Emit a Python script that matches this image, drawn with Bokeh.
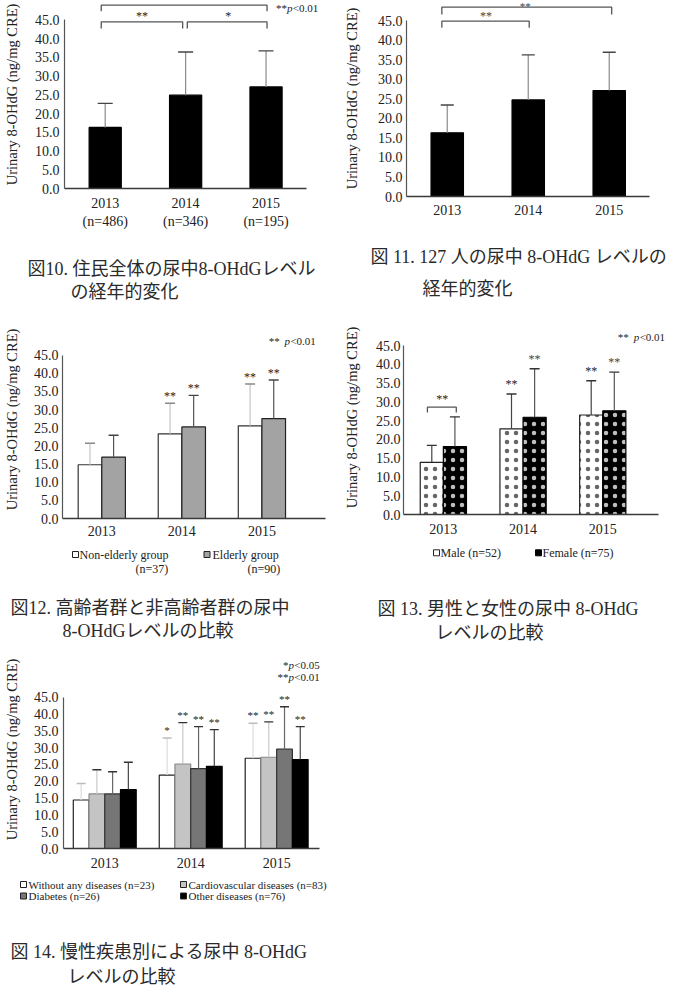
import math
from bokeh.plotting import figure
from bokeh.models import (Range1d, FixedTicker, PrintfTickFormatter, Label,
                          Whisker, TeeHead, ColumnDataSource)
from bokeh.layouts import column, row
from bokeh.embed import file_html
from bokeh.resources import INLINE

SERIF = "Liberation Serif, Noto Sans CJK JP"

# ---------------- data ----------------
years = ["2013", "2014", "2015"]
yticks = [0, 5, 10, 15, 20, 25, 30, 35, 40, 45]
ylabel = "Urinary 8-OHdG (ng/mg CRE)"

# Fig 10: all residents
fig10_n = ["(n=486)", "(n=346)", "(n=195)"]
fig10_mean = [16.3, 24.9, 27.1]
fig10_upper = [22.7, 36.4, 36.7]

# Fig 11: 127 persons
fig11_mean = [16.3, 24.7, 27.1]
fig11_upper = [23.4, 36.2, 36.9]

# Fig 12: elderly vs non-elderly
fig12_labels = ["Non-elderly group", "Elderly group"]
fig12_n = ["(n=37)", "(n=90)"]
fig12_nonelderly = [14.8, 23.3, 25.5]
fig12_nonelderly_upper = [20.7, 31.7, 37.0]
fig12_nonelderly_sig = ["", "**", "**"]
fig12_elderly = [16.9, 25.2, 27.5]
fig12_elderly_upper = [22.9, 33.9, 38.1]
fig12_elderly_sig = ["", "**", "**"]

# Fig 13: male vs female
fig13_labels = ["Male", "Female"]
fig13_n = ["(n=52)", "(n=75)"]
fig13_male = [13.9, 22.8, 26.5]
fig13_male_upper = [18.4, 32.1, 35.6]
fig13_male_sig = ["", "**", "**"]
fig13_female = [18.1, 25.9, 27.6]
fig13_female_upper = [26.0, 38.8, 37.9]
fig13_female_sig = ["", "**", "**"]

# Fig 14: chronic diseases
fig14_labels = ["Without any diseases", "Cardiovascular diseases", "Diabetes", "Other diseases"]
fig14_n = ["(n=23)", "(n=83)", "(n=26)", "(n=76)"]
fig14_none = [14.4, 21.8, 26.8]
fig14_none_upper = [19.3, 32.8, 37.2]
fig14_none_sig = ["", "*", "**"]
fig14_cardio = [16.2, 25.1, 27.1]
fig14_cardio_upper = [23.4, 37.4, 37.6]
fig14_cardio_sig = ["", "**", "**"]
fig14_diab = [16.2, 23.7, 29.5]
fig14_diab_upper = [22.8, 36.2, 42.1]
fig14_diab_sig = ["", "**", "**"]
fig14_other = [17.5, 24.4, 26.4]
fig14_other_upper = [25.6, 35.3, 36.2]
fig14_other_sig = ["", "**", "**"]

captions = {
    10: ["図10. 住民全体の尿中8-OHdGレベル", "の経年的変化"],
    11: ["図 11. 127 人の尿中 8-OHdG レベルの", "経年的変化"],
    12: ["図12. 高齢者群と非高齢者群の尿中", "8-OHdGレベルの比較"],
    13: ["図 13. 男性と女性の尿中 8-OHdG", "レベルの比較"],
    14: ["図 14. 慢性疾患別による尿中 8-OHdG", "レベルの比較"],
}


# ---------------- helpers ----------------
class Panel:
    """A chart figure (axes + bars) stacked over a text figure (legend, caption)."""

    def __init__(self, W, H, CH, L, B, xc0, dx, y45, axis_right, tick_labels,
                 tick_standoff=8, ytick_standoff=5, ylab_standoff=14):
        self.ppu = (B - y45) / 45.0
        self.xc0, self.dx, self.B, self.CH = xc0, dx, B, CH
        p = figure(width=W, height=CH,
                   x_range=Range1d(self.X(L), self.X(W)),
                   y_range=Range1d(0, self.Y(0)),
                   output_backend="svg", toolbar_location=None,
                   min_border_left=L, min_border_right=0,
                   min_border_top=0, min_border_bottom=CH - B)
        p.frame_align = False
        p.outline_line_color = None
        p.background_fill_color = "white"
        p.border_fill_color = "white"
        p.grid.visible = False
        p.axis.major_tick_line_color = None
        p.axis.minor_tick_line_color = None
        p.axis.major_tick_out = 0
        p.axis.major_tick_in = 0

        p.xaxis.ticker = FixedTicker(ticks=[0, 1, 2])
        p.xaxis.major_label_overrides = {i: t for i, t in enumerate(tick_labels)}
        p.xaxis.bounds = (self.X(L), axis_right)
        p.xaxis.axis_line_color = "#3a3a3a"
        p.xaxis.axis_line_width = 1.6
        p.xaxis.major_label_text_font = SERIF
        p.xaxis.major_label_text_font_size = "14px"
        p.xaxis.major_label_text_color = "#222"
        p.xaxis.major_label_standoff = tick_standoff

        p.yaxis.ticker = FixedTicker(ticks=yticks)
        p.yaxis.formatter = PrintfTickFormatter(format="%.1f")
        p.yaxis.bounds = (0, 45)
        p.yaxis.axis_line_color = "#555"
        p.yaxis.axis_line_width = 1.2
        p.yaxis.major_label_text_font = SERIF
        p.yaxis.major_label_text_font_size = "14px"
        p.yaxis.major_label_text_color = "#222"
        p.yaxis.major_label_standoff = ytick_standoff
        p.yaxis.axis_label = ylabel
        p.yaxis.axis_label_text_font = SERIF
        p.yaxis.axis_label_text_font_size = "14.5px"
        p.yaxis.axis_label_text_font_style = "normal"
        p.yaxis.axis_label_text_color = "#222"
        p.yaxis.axis_label_standoff = ylab_standoff
        self.p = p

        t = figure(width=W, height=H - CH, x_range=Range1d(0, W),
                   y_range=Range1d(H - CH, 0), output_backend="svg",
                   toolbar_location=None, min_border=0,
                   x_axis_type=None, y_axis_type=None)
        t.frame_align = False
        t.outline_line_color = None
        t.grid.visible = False
        t.background_fill_color = "white"
        t.border_fill_color = "white"
        self.t = t
        self.fig = column(p, t)

    def X(self, px):
        return (px - self.xc0) / self.dx

    def Y(self, py):
        return (self.B - py) / self.ppu

    def text(self, px, py, s, size=12, align="left", color="#222", style="normal"):
        """Text at panel-local pixel position; goes to chart or text figure."""
        if py < self.CH:
            lab = Label(x=self.X(px), y=self.Y(py), text=s)
            target = self.p
        else:
            lab = Label(x=px, y=py - self.CH, text=s)
            target = self.t
        lab.text_font = SERIF
        lab.text_font_size = f"{size}px"
        lab.text_align = align
        lab.text_baseline = "middle"
        lab.text_color = color
        lab.text_font_style = style
        target.add_layout(lab)

    def caption(self, key, p1, p2):
        self.text(p1[0], p1[1], captions[key][0], size=18, color="#2a2a2a")
        self.text(p2[0], p2[1], captions[key][1], size=18, color="#2a2a2a")

    def square(self, px, py, fill, edge="#222"):
        self.t.rect(x=[px], y=[py - self.CH], width=6, height=6,
                    fill_color=fill, line_color=edge, line_width=1)

    def bars(self, xs, vals, width, fill, line="#111", **kw):
        self.p.vbar(x=xs, width=width, top=vals, bottom=0, fill_color=fill,
                    line_color=line, line_width=1.2, **kw)

    def err(self, xs, lows, ups, stem="#777", cap="#333", size=13):
        src = ColumnDataSource(dict(base=xs, lower=lows, upper=ups))
        w = Whisker(source=src, base="base", lower="lower", upper="upper",
                    dimension="height", line_color=stem, line_width=1.2,
                    lower_head=None,
                    upper_head=TeeHead(size=size, line_color=cap, line_width=1.4),
                    level="glyph")
        self.p.add_layout(w)

    def stars(self, xs, ups, sig, color="#222", gap=8, size=12):
        for x, u, s in zip(xs, ups, sig):
            if s:
                self.p.add_layout(Label(x=x, y=u + gap / self.ppu, text=s,
                                        text_font=SERIF, text_font_size=f"{size}px",
                                        text_align="center", text_baseline="middle",
                                        text_color=color))

    def bracket(self, x0, x1, ytop, ybot, color="#555"):
        X, Y = self.X, self.Y
        self.p.line([X(x0), X(x0), X(x1), X(x1)], [Y(ybot), Y(ytop), Y(ytop), Y(ybot)],
                    line_color=color, line_width=1.3)

    def pnote(self, x_rest, py, star, rest, size=11, x_star=None):
        self.text(x_rest, py, rest, size=size)
        self.text(x_rest - 0.3, py, "p", size=size, style="italic", align="right")
        if x_star is None:
            self.text(x_rest - 6, py, star, size=size, align="right")
        else:
            self.text(x_star, py, star, size=size)


cat = [0, 1, 2]

# ---------------- Fig 10 ----------------
a = Panel(340, 320, 235, 62, 188, 103, 81, 19.3, 2.5,
          [f"{y}\n{n}" for y, n in zip(years, fig10_n)], tick_standoff=7,
          ytick_standoff=5, ylab_standoff=12)
a.bars(cat, fig10_mean, 0.4, "#000", "#000")
a.err(cat, fig10_mean, fig10_upper, stem="#8a8a8a", cap="#444", size=15)
a.bracket(99, 266, 4.7, 10.7)
a.bracket(99, 181, 21.3, 28)
a.bracket(185.7, 266, 21.3, 28)
a.text(140, 15.5, "**", size=12, align="center")
a.text(227, 15.5, "*", size=12, align="center")
a.pnote(292, 7.5, "**", "<0.01")
a.caption(10, (27, 268), (70, 291))

# ---------------- Fig 11 ----------------
b = Panel(335, 320, 235, 61, 196, 102.5, 82.5, 20, 2.5, years, tick_standoff=8,
          ytick_standoff=4, ylab_standoff=15)
b.bars(cat, fig11_mean, 0.4, "#000", "#000")
b.err(cat, fig11_mean, fig11_upper, stem="#8a8a8a", cap="#444", size=13)
b.bracket(97, 270, 6.7, 14)
b.bracket(97, 186, 20.7, 27.3)
b.text(182, 5, "**", size=11, align="center", color="#444")
b.text(142, 15, "**", size=12, align="center", color="#444")
b.caption(11, (30, 256), (82, 288))

# ---------------- Fig 12 ----------------
c = Panel(340, 330, 225, 57, 198, 97, 81.5, 34.5, 2.8, years, tick_standoff=7,
          ytick_standoff=4, ylab_standoff=11)
w12 = 0.295
x_ne = [i - w12 / 2 for i in cat]
x_el = [i + w12 / 2 for i in cat]
c.bars(x_ne, fig12_nonelderly, w12, "#ffffff", "#333")
c.bars(x_el, fig12_elderly, w12, "#a3a3a3", "#222")
c.err(x_ne, fig12_nonelderly, fig12_nonelderly_upper, stem="#c4c4c4", cap="#888", size=10)
c.err(x_el, fig12_elderly, fig12_elderly_upper, stem="#555", cap="#444", size=10)
c.stars(x_ne, fig12_nonelderly_upper, fig12_nonelderly_sig, gap=7)
c.stars(x_el, fig12_elderly_upper, fig12_elderly_sig, gap=7)
c.pnote(289, 20.7, "**", "<0.01", x_star=267)
c.square(75, 234, "#ffffff")
c.text(79, 234, fig12_labels[0], size=12)
c.text(135, 248, fig12_n[0], size=12)
c.square(206.5, 234, "#a3a3a3")
c.text(212, 234, fig12_labels[1], size=12)
c.text(247, 248, fig12_n[1], size=12)
c.caption(12, (10, 287.5), (62, 310))

# ---------------- Fig 13 ----------------
d = Panel(335, 330, 224, 62, 194, 102, 80, 25, 2.7, years, tick_standoff=9,
          ytick_standoff=3, ylab_standoff=13)
w13 = 0.29
x_m = [i - w13 / 2 for i in cat]
x_f = [i + w13 / 2 for i in cat]
d.bars(x_m, fig13_male, w13, "#ffffff", "#222",
       hatch_pattern="dot", hatch_color="#000", hatch_scale=9, hatch_weight=0.5,
       hatch_alpha=0.6)
d.bars(x_f, fig13_female, w13, "#000000", "#000",
       hatch_pattern="dot", hatch_color="#ffffff", hatch_scale=9, hatch_weight=0.5,
       hatch_alpha=0.75)
d.err(x_m, fig13_male, fig13_male_upper, stem="#444", cap="#333", size=10)
d.err(x_f, fig13_female, fig13_female_upper, stem="#555", cap="#333", size=10)
d.stars(x_m, fig13_male_upper, fig13_male_sig, gap=10)
d.stars(x_f, fig13_female_upper, fig13_female_sig, color="#444", gap=10)
d.bracket(86, 115, 86.7, 92)
d.text(101, 78, "**", size=12, align="center")
d.pnote(299, 16, "**", "<0.01", x_star=277)
d.square(96, 232.3, "#ffffff")
d.text(100, 232.3, f"{fig13_labels[0]} {fig13_n[0]}", size=12)
d.square(198, 232.3, "#000000", "#000")
d.text(202, 232.3, f"{fig13_labels[1]} {fig13_n[1]}", size=12)
d.caption(13, (37, 288.5), (95, 312))

# ---------------- Fig 14 ----------------
e = Panel(340, 348, 227, 58, 198, 100, 87.5, 46.5, 2.5, years, tick_standoff=9,
          ytick_standoff=5, ylab_standoff=11)
w14 = 0.183
offs = [-1.5, -0.5, 0.5, 1.5]
series14 = [
    (fig14_none, fig14_none_upper, fig14_none_sig, "#ffffff", "#222", "#dcdcdc", "#bbb"),
    (fig14_cardio, fig14_cardio_upper, fig14_cardio_sig, "#c4c4c4", "#888", "#c8c8c8", "#333"),
    (fig14_diab, fig14_diab_upper, fig14_diab_sig, "#767676", "#333", "#666", "#333"),
    (fig14_other, fig14_other_upper, fig14_other_sig, "#000000", "#000", "#444", "#333"),
]
for k, (vals, ups, sig, fill, line, stem, cap) in enumerate(series14):
    xs = [i + offs[k] * w14 for i in cat]
    e.bars(xs, vals, w14, fill, line)
    e.err(xs, vals, ups, stem=stem, cap=cap, size=9)
    e.stars(xs, ups, sig, gap=8, size=11)
e.pnote(293, 14.3, "*", "<0.05")
e.pnote(293, 26, "**", "<0.01")
leg_fill = ["#ffffff", "#c4c4c4", "#767676", "#000000"]
leg_pos = [(23, 234), (183, 234), (23, 245.5), (183, 245.5)]
leg_txt = [f"{fig14_labels[0]} {fig14_n[0]}", f"{fig14_labels[1]} {fig14_n[1]}",
           f"{fig14_labels[2]}  {fig14_n[2]}", f"{fig14_labels[3]} {fig14_n[3]}"]
for (lx, ly), f, txt in zip(leg_pos, leg_fill, leg_txt):
    e.square(lx, ly, f)
    e.text(lx + 5, ly, txt, size=11)
e.caption(14, (10, 301.5), (67, 326))

layout = column(row(a.fig, b.fig), row(c.fig, d.fig), row(e.fig))
open("out.html", "w").write(file_html(layout, INLINE))
